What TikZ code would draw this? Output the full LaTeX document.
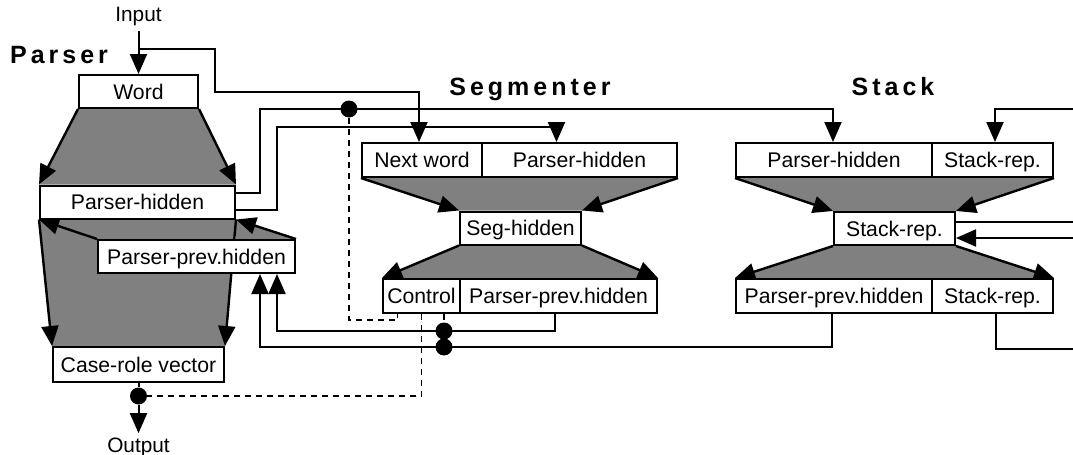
\documentclass[tikz,border=0pt]{standalone}
\usepackage{fontspec}
\setmainfont{Liberation Sans}
\newfontfamily\titlefont[LetterSpace=16]{Liberation Sans}
\usepackage{tikz}
\usetikzlibrary{arrows.meta,backgrounds}
\definecolor{slabgrey}{gray}{0.5}
\tikzstyle{unitbox}=[draw,fill=white,line width=1pt,inner sep=0pt,minimum height=16.5pt,text height=9pt,text depth=1.5pt,font=\fontsize{10.6}{12}\selectfont]
\tikzstyle{ioname}=[inner sep=2pt,font=\fontsize{10.4}{12}\selectfont]
\tikzstyle{heading}=[anchor=base,inner sep=0pt,font=\titlefont\bfseries\fontsize{12.5}{14}\selectfont]
\tikzstyle{wire}=[line width=1pt]
\tikzstyle{feed}=[wire,-{Triangle[length=10pt,width=8.5pt]}]
\tikzstyle{spread}=[line width=1.2pt,-{Triangle[length=10pt,width=8.5pt]}]
\tikzstyle{ctrl}=[line width=0.9pt,dash pattern=on 3pt off 2.5pt]
\tikzstyle{gate}=[circle,fill=black,inner sep=0pt,minimum size=8.5pt]

\begin{document}
\begin{tikzpicture}[x=0.5pt,y=-0.5pt]
\useasboundingbox (0,0) rectangle (1073,455);
% parser
\node[heading] (partitle) at (59,63) {Parser};
\node[ioname] (input) at (138.5,17) {Input};
\node[unitbox,minimum width=59.5pt] (word) at (138.5,91.5) {Word};
\node[unitbox,minimum width=97.5pt] (phid) at (137.5,202) {Parser-hidden};
\node[unitbox,minimum width=98.5pt] (pprev) at (196.5,256.5) {Parser-prev.hidden};
\node[unitbox,minimum width=85.5pt,minimum height=17.5pt] (crole) at (138.5,364.5) {Case-role vector};
\node[ioname] (output) at (138.5,447) {Output};
% segmenter
\node[heading] (segtitle) at (530,95) {Segmenter};
\node[unitbox,minimum width=60pt,minimum height=17pt] (snext) at (422,160) {Next word};
\node[unitbox,minimum width=97.5pt,minimum height=17pt] (sphid) at (579.5,160) {Parser-hidden};
\node[unitbox,minimum width=60.5pt] (sseg) at (520.5,228) {Seg-hidden};
\node[unitbox,minimum width=38.5pt,minimum height=17pt] (sctrl) at (421.5,296) {Control};
\node[unitbox,minimum width=98.5pt,minimum height=17pt] (sprev) at (558.5,296) {Parser-prev.hidden};
% stack
\node[heading] (stktitle) at (893,95) {Stack};
\node[unitbox,minimum width=98pt,minimum height=17pt] (kphid) at (834,160) {Parser-hidden};
\node[unitbox,minimum width=60.5pt,minimum height=17pt] (krep) at (992.5,160) {Stack-rep.};
\node[unitbox,minimum width=60.5pt] (kmid) at (894.5,228.5) {Stack-rep.};
\node[unitbox,minimum width=98pt,minimum height=17pt] (kprev) at (834,296) {Parser-prev.hidden};
\node[unitbox,minimum width=60.5pt,minimum height=17pt] (krep2) at (992.5,296) {Stack-rep.};
% gates
\node[gate] (g0) at (138.5,396) {};
\node[gate] (g1) at (349,109) {};
\node[gate] (g2) at (444,331) {};
\node[gate] (g3) at (444,347) {};
\coordinate (fork) at (138.5,49);
\coordinate (kin) at (1073,109);
\coordinate (kout) at (1073,221.5);
\coordinate (kback) at (1073,238);
\coordinate (kdown) at (1073,349);

\begin{scope}[on background layer]
\fill[slabgrey] (word.south west) -- (word.south east) -- (phid.north east) -- (phid.north west) -- cycle;
\fill[slabgrey] (phid.south west) -- (phid.south east) -- (crole.north east) -- (crole.north west) -- cycle;
\fill[slabgrey] (phid.south east) -- (pprev.north east) -- (phid.south east |- pprev.north) -- cycle;
\fill[slabgrey] (snext.south west) -- (sphid.south east) -- (sseg.north east) -- (sseg.north west) -- cycle;
\fill[slabgrey] (sseg.south west) -- (sseg.south east) -- (sprev.north east) -- (sctrl.north west) -- cycle;
\fill[slabgrey] (kphid.south west) -- (krep.south east) -- (kmid.north east) -- (kmid.north west) -- cycle;
\fill[slabgrey] (kmid.south west) -- (kmid.south east) -- (krep2.north east) -- (kprev.north west) -- cycle;
\draw[spread] (word.south west) -- (phid.north west);
\draw[spread] (word.south east) -- (phid.north east);
\draw[spread] (phid.south west) -- (crole.north west);
\draw[spread] (phid.south east) -- (crole.north east);
\draw[spread] (pprev.north west) -- (phid.south west);
\draw[spread] (pprev.north east) -- (phid.south east);
\draw[spread] (snext.south west) -- (sseg.north west);
\draw[spread] (sphid.south east) -- (sseg.north east);
\draw[spread] (sseg.south west) -- (sctrl.north west);
\draw[spread] (sseg.south east) -- (sprev.north east);
\draw[spread] (kphid.south west) -- (kmid.north west);
\draw[spread] (krep.south east) -- (kmid.north east);
\draw[spread] (kmid.south west) -- (kprev.north west);
\draw[spread] (kmid.south east) -- (krep2.north east);
\end{scope}

% input and output
\draw[feed] (input) -- (word);
\draw[feed] (fork) -| (215,92) -| ([xshift=-1.5pt]snext.north);
\draw[wire] (crole) -- (g0);
\draw[feed] (g0) -- (output);
% parser-hidden out
\draw[feed] ([yshift=4.5pt]phid.east) -| (260,109) -| ([xshift=-0.5pt]kphid.north);
\draw[feed] ([yshift=-4pt]phid.east) -| (277,127) -| ([xshift=-11.5pt]sphid.north);
% prev.hidden back
\draw[feed] ([xshift=-1.75pt]sprev.south) |- (g2.center) -| ([xshift=40.25pt]pprev.south);
\draw[feed] ([xshift=-1pt]kprev.south) |- (g3.center) -| ([xshift=31.75pt]pprev.south);
% control
\draw[ctrl] (g1) -- (349,320) -| ([xshift=-12pt]sctrl.south);
\draw[ctrl] (sctrl.south) |- (g0);
\draw[ctrl] ([xshift=11.25pt]sctrl.south) -- (g2);
% stack loop
\draw[feed] (kin) -| ([xshift=1.25pt]krep.north);
\draw[wire] ([yshift=3.5pt]kmid.east) -- (kout);
\draw[feed] (kback) -- ([yshift=-4.75pt]kmid.east);
\draw[wire] ([xshift=1.75pt]krep2.south) |- (kdown);
\end{tikzpicture}
\end{document}
